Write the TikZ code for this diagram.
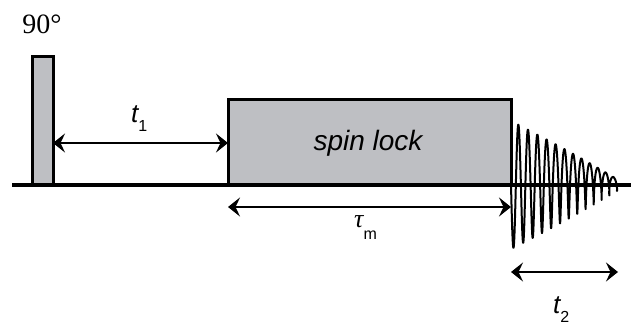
\documentclass[tikz,border=0pt]{standalone}
\usepackage{fontspec}
\setmainfont{Liberation Serif}
\newfontfamily\arialf{Liberation Sans}
\usetikzlibrary{arrows.meta}
\definecolor{boxgray}{RGB}{190,191,195}
\begin{document}
\begin{tikzpicture}[x=1pt,y=-1pt,
  pulsebox/.style={draw=black,fill=boxgray,line width=3,anchor=south west,inner sep=0,outer sep=0},
  dimarrow/.style={line width=2,{Stealth[length=12,width=19,inset=4.5]}-{Stealth[length=12,width=19,inset=4.5]}},
  lbl/.style={inner sep=0,font=\arialf}
]
\useasboundingbox (0,0) rectangle (631,324);
% pulses
\node[pulsebox,minimum width=21,minimum height=129] (p90) at (32,185) {};
\node[pulsebox,minimum width=283,minimum height=86] (sl) at (228,185) {};
\node[lbl,anchor=base,font=\arialf\itshape\fontsize{28}{30}\selectfont] (sltext) at (368,150) {spin lock};
\node[inner sep=0,anchor=base,font=\fontsize{28}{30}\selectfont] (deg) at (42,33) {90°};
% baseline
\coordinate (b0) at (12,185);
\coordinate (b1) at (631,185);
\draw[line width=4] (b0) -- (b1);
% FID
\draw[line width=2,line join=round]
  plot[domain=0:12.3,samples=1200,variable=\t]
  ({511+10*\t-0.1*\t*\t+1.6*\t/12*(cos(360*\t)-1)},{185+(64-5*\t+0.02*\t*\t)*sin(360*\t)});
% dimension arrows
\coordinate (ya) at (0,143);
\coordinate (yb) at (0,207);
\coordinate (t2l) at (511,272);
\coordinate (t2r) at (618,272);
\draw[dimarrow] (p90.east |- ya) -- (sl.west |- ya);
\draw[dimarrow] (sl.west |- yb) -- (sl.east |- yb);
\draw[dimarrow] (t2l) -- (t2r);
% labels
\node[lbl,anchor=base west] (t1) at (131,122) {{\fontsize{26}{26}\selectfont\itshape t}\raisebox{-9pt}{\fontsize{16}{16}\selectfont 1}};
\node[lbl,anchor=base west] (tm) at (354,227) {{\fontsize{26}{28}\selectfont\rmfamily\itshape τ}\raisebox{-12pt}{\fontsize{16}{16}\selectfont m}};
\node[lbl,anchor=base west] (t2) at (553,313) {{\fontsize{26}{26}\selectfont\itshape t}\raisebox{-9pt}{\fontsize{16}{16}\selectfont 2}};
\end{tikzpicture}
\end{document}
